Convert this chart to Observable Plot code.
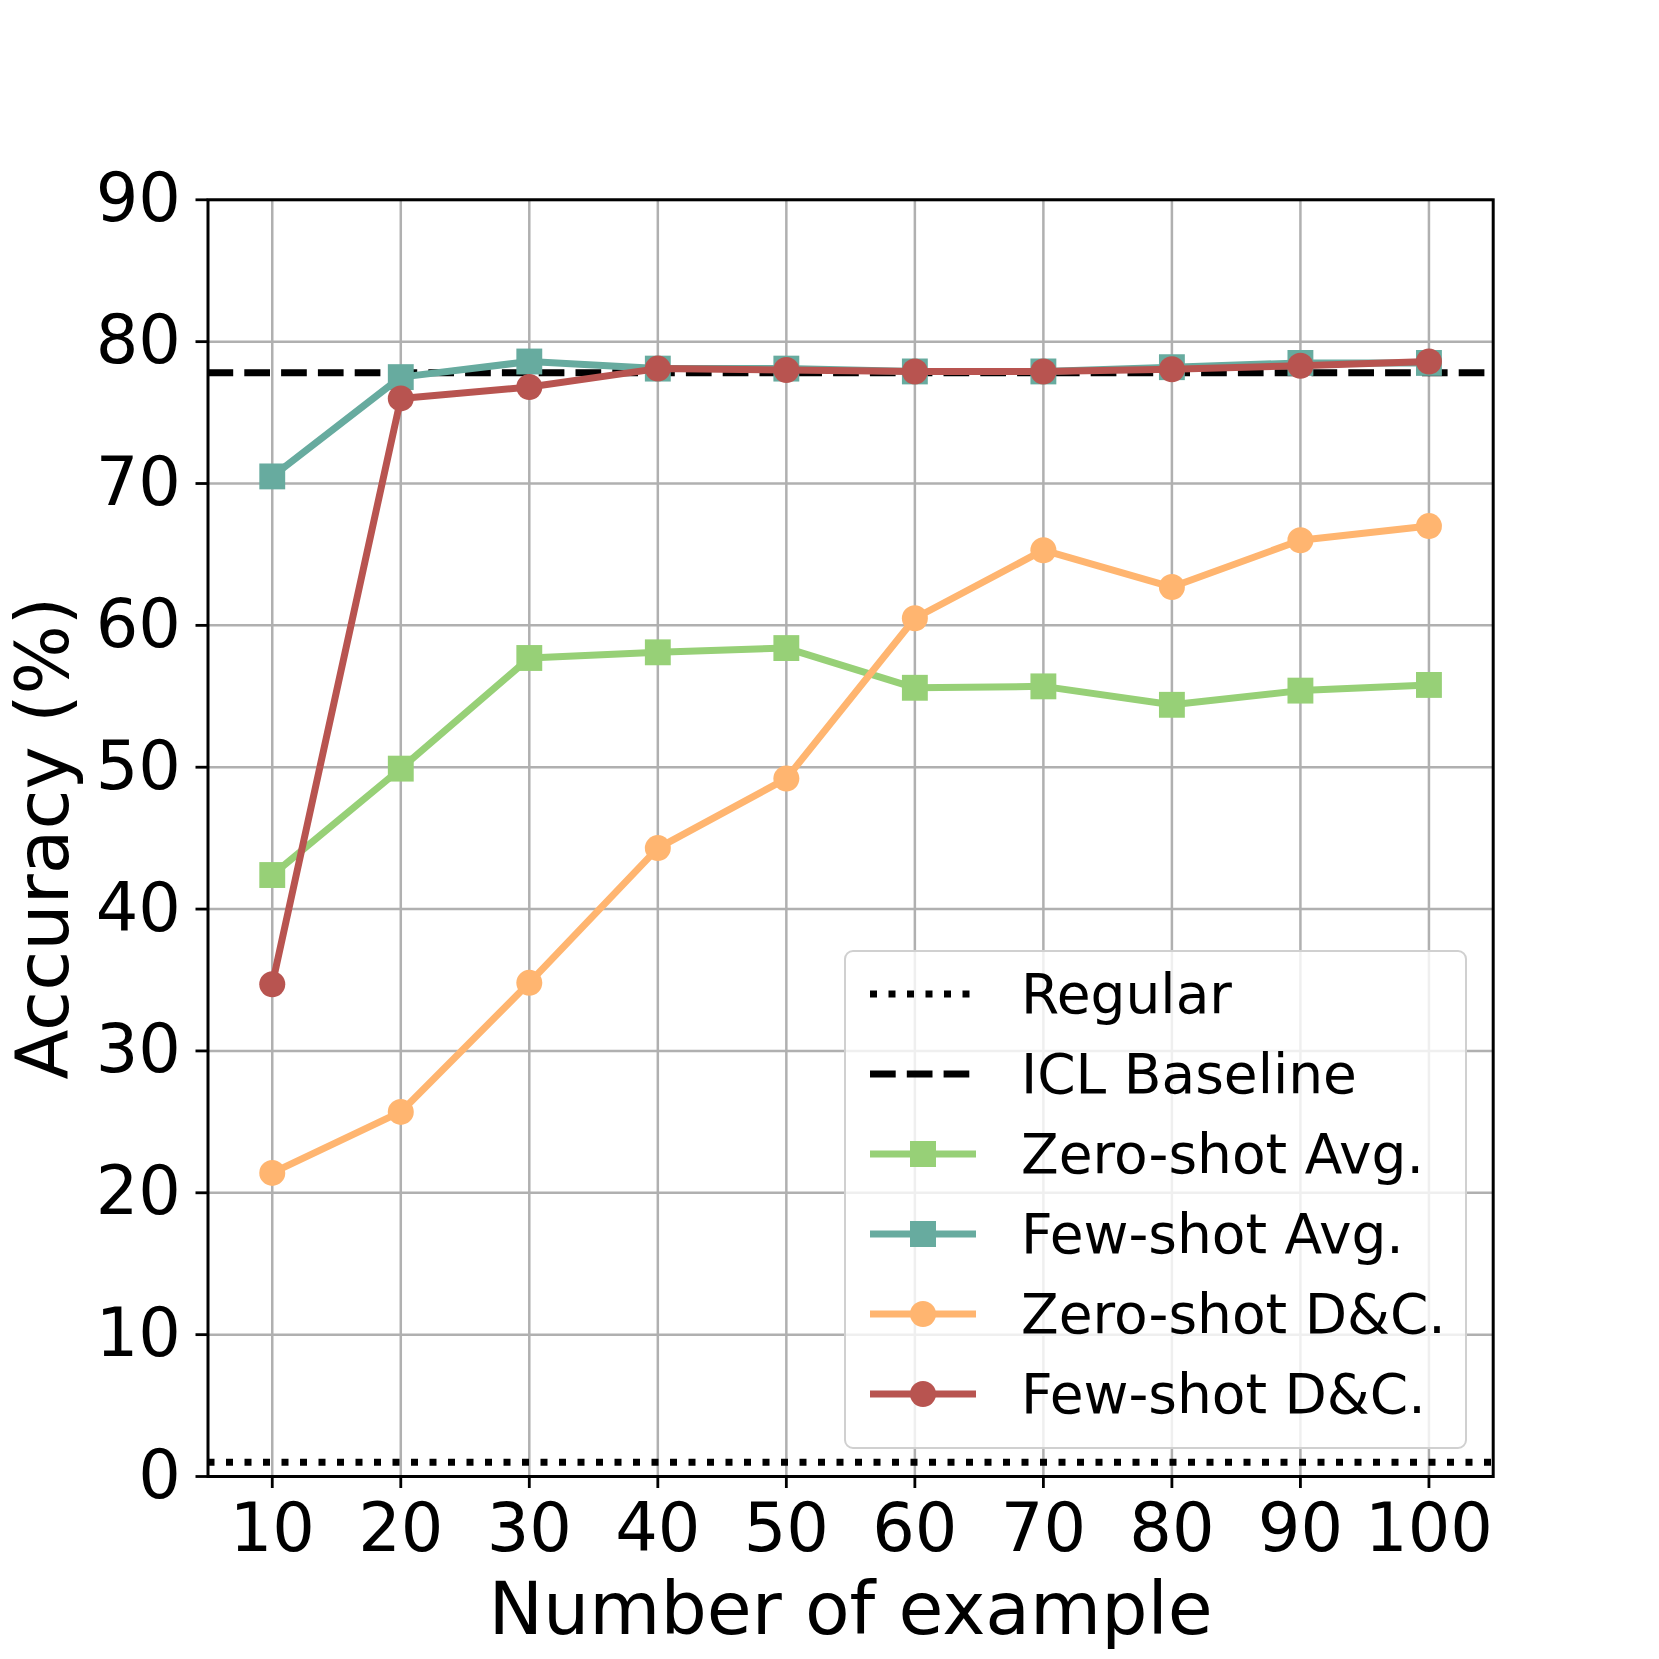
<!DOCTYPE html>
<html>
<head>
<meta charset="utf-8">
<script src="https://cdn.jsdelivr.net/npm/d3@7"></script>
<script src="https://cdn.jsdelivr.net/npm/@observablehq/plot@0.6"></script>
<style>
  html, body { margin: 0; padding: 0; background: white; }
  #wrap { position: relative; width: 1659px; height: 1659px; font-family: "DejaVu Sans", sans-serif; }
  #legend { position: absolute; left: 844px; top: 950px; width: 623px; height: 499px; box-sizing: border-box;
            border: 2.2px solid #d0d0d0; border-radius: 9px; background: rgba(255,255,255,0.8); }
  .row { position: absolute; left: 0; height: 80px; display: flex; align-items: center; }
  .row svg { position: absolute; left: 24px; top: 25px; overflow: visible; }
  .row span { position: absolute; left: 175px; top: 0; height: 80px; line-height: 80px; font-size: 55px; white-space: nowrap; color: black; }
</style>
</head>
<body>
<div id="wrap"></div>
<script>
// ---- data ----
const examples = [10, 20, 30, 40, 50, 60, 70, 80, 90, 100];
const zeroShotAvg = [42.4, 49.9, 57.7, 58.1, 58.4, 55.6, 55.7, 54.4, 55.4, 55.8];
const fewShotAvg  = [70.5, 77.5, 78.6, 78.1, 78.1, 77.9, 77.9, 78.2, 78.5, 78.5];
const zeroShotDC  = [21.4, 25.7, 34.8, 44.3, 49.2, 60.5, 65.3, 62.7, 66.0, 67.0];
const fewShotDC   = [34.7, 76.0, 76.8, 78.1, 78.0, 77.9, 77.9, 78.05, 78.3, 78.6];
const regularValue = 1.0;
const iclBaselineValue = 77.8;
const xTicks = [10, 20, 30, 40, 50, 60, 70, 80, 90, 100];
const yTicks = [0, 10, 20, 30, 40, 50, 60, 70, 80, 90];
const xLabel = "Number of example";
const yLabel = "Accuracy (%)";

const seriesNames = ["Zero-shot Avg.", "Few-shot Avg.", "Zero-shot D&C.", "Few-shot D&C."];
const seriesValues = [zeroShotAvg, fewShotAvg, zeroShotDC, fewShotDC];
const seriesColors = ["#97D077", "#67AB9F", "#FFB570", "#B85450"];
const seriesSymbols = ["square", "square", "circle", "circle"];

const LW = 7;
const dotDash = "7 11.5";
const dashDash = "25.7 11.1";

const seriesMarks = seriesNames.flatMap((name, i) => {
  const rows = examples.map((x, j) => ({x, y: seriesValues[i][j]}));
  const sym = seriesSymbols[i];
  return [
    Plot.line(rows, {x: "x", y: "y", stroke: seriesColors[i], strokeWidth: LW, strokeLinejoin: "round"}),
    Plot.dot(rows, {x: "x", y: "y", fill: seriesColors[i], stroke: "none",
      symbol: sym, r: sym === "square" ? 14.6 : 13})
  ];
});

const chart = Plot.plot({
  width: 1659,
  height: 1659,
  marginLeft: 207.5,
  marginRight: 166.3,
  marginTop: 199.3,
  marginBottom: 183,
  style: {fontFamily: "DejaVu Sans", background: "white", color: "black"},
  x: {domain: [5, 105], label: null},
  y: {domain: [0, 90], label: null},
  marks: [
    Plot.gridX(xTicks, {stroke: "#b0b0b0", strokeOpacity: 1, strokeWidth: 2.5}),
    Plot.gridY(yTicks, {stroke: "#b0b0b0", strokeOpacity: 1, strokeWidth: 2.5}),
    Plot.ruleY([regularValue], {stroke: "black", strokeWidth: LW, strokeDasharray: dotDash}),
    Plot.ruleY([iclBaselineValue], {stroke: "black", strokeWidth: LW, strokeDasharray: dashDash}),
    ...seriesMarks,
    Plot.frame({stroke: "black", strokeWidth: 3}),
    Plot.axisX({ticks: xTicks, tickFormat: d => String(d), tickSize: 12, tickPadding: 15, fontSize: 67, strokeWidth: 2.8, label: null}),
    Plot.axisY({ticks: yTicks, tickFormat: d => String(d), tickSize: 12, tickPadding: 15, fontSize: 67, strokeWidth: 2.8, label: null}),
    Plot.text([xLabel], {frameAnchor: "bottom", textAnchor: "middle", lineAnchor: "top", dy: 106, fontSize: 73, fill: "black"}),
    Plot.text([yLabel], {frameAnchor: "left", textAnchor: "middle", lineAnchor: "middle", rotate: -90, dx: -163, fontSize: 73, fill: "black"})
  ]
});

const wrap = document.getElementById("wrap");
wrap.appendChild(chart);

// ---- legend (HTML overlay) ----
const legend = document.createElement("div");
legend.id = "legend";
const legendEntries = [
  {name: "Regular", color: "black", dash: dotDash, symbol: null},
  {name: "ICL Baseline", color: "black", dash: dashDash, symbol: null},
  ...seriesNames.map((n, i) => ({name: n, color: seriesColors[i], dash: null, symbol: seriesSymbols[i]}))
];
legendEntries.forEach((e, i) => {
  const row = document.createElement("div");
  row.className = "row";
  row.style.top = (2 + 80 * i) + "px";
  row.style.width = "100%";
  const ns = "http://www.w3.org/2000/svg";
  const svg = document.createElementNS(ns, "svg");
  svg.setAttribute("width", 106);
  svg.setAttribute("height", 30);
  const line = document.createElementNS(ns, "line");
  line.setAttribute("x1", 0); line.setAttribute("x2", 106);
  line.setAttribute("y1", 15); line.setAttribute("y2", 15);
  line.setAttribute("stroke", e.color);
  line.setAttribute("stroke-width", LW);
  if (e.dash) line.setAttribute("stroke-dasharray", e.dash);
  svg.appendChild(line);
  if (e.symbol === "square") {
    const r = document.createElementNS(ns, "rect");
    r.setAttribute("x", 53 - 13); r.setAttribute("y", 15 - 13);
    r.setAttribute("width", 26); r.setAttribute("height", 26);
    r.setAttribute("fill", e.color);
    svg.appendChild(r);
  } else if (e.symbol === "circle") {
    const c = document.createElementNS(ns, "circle");
    c.setAttribute("cx", 53); c.setAttribute("cy", 15); c.setAttribute("r", 13);
    c.setAttribute("fill", e.color);
    svg.appendChild(c);
  }
  row.appendChild(svg);
  const span = document.createElement("span");
  span.textContent = e.name;
  row.appendChild(span);
  legend.appendChild(row);
});
wrap.appendChild(legend);
</script>
</body>
</html>
